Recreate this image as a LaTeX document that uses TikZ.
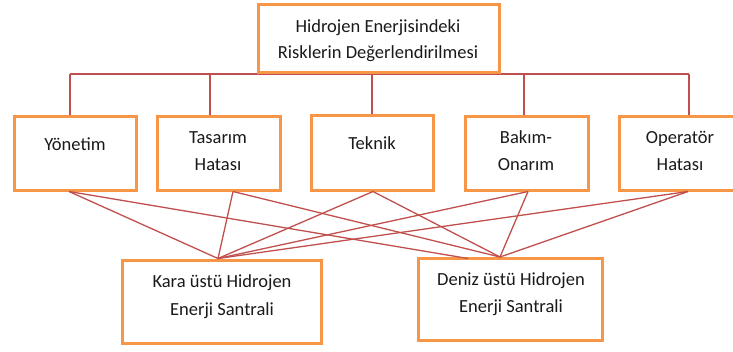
\documentclass[tikz,border=0pt]{standalone}
\usepackage{fontspec}
\setmainfont{Carlito}
\definecolor{boxorange}{HTML}{F79646}
\definecolor{linkred}{HTML}{C0504D}
\definecolor{txt}{HTML}{1A1A1A}
\begin{document}
\begin{tikzpicture}[x=1pt,y=-1pt,
  box/.style={draw=boxorange,line width=3pt,fill=white,inner sep=0pt,outer sep=0pt,rectangle},
  lbl/.style={anchor=base,inner sep=0pt,align=center,text=txt,font=\fontsize{18.5}{27}\selectfont},
  link/.style={draw=linkred,line width=1.3pt}]
\useasboundingbox (0,0) rectangle (733,351);
\clip (0,0) rectangle (733,351);
% tree connectors
\coordinate (hl) at (70,74);
\coordinate (hr) at (689,74);
\coordinate (ht) at (372,74);
\draw[link] (hl) -- (hr);
\draw[link] (hl) -- (70,116);
\draw[link] (210,74) -- (210,116);
\draw[link] (372,60) -- (372,116);
\draw[link] (524,74) -- (524,116);
\draw[link] (689,74) -- (689,116);
% boxes
\node[box,minimum width=241pt,minimum height=68pt] (top) at (378.5,38) {};
\node[box,minimum width=122pt,minimum height=74pt] (yon) at (75,153) {};
\node[box,minimum width=123pt,minimum height=74pt] (tas) at (218.5,153) {};
\node[box,minimum width=122pt,minimum height=75pt] (tek) at (372,152.5) {};
\node[box,minimum width=123pt,minimum height=74pt] (bak) at (526.5,153) {};
\node[box,minimum width=126pt,minimum height=74pt] (ope) at (682,153) {};
\node[box,minimum width=199pt,minimum height=83pt] (kara) at (221.5,301.5) {};
\node[box,minimum width=184pt,minimum height=82pt] (deniz) at (510,299) {};
% labels (base = baseline of last line)
\node[lbl] (topt) at (378,58) {Hidrojen Enerjisindeki\\[-1pt]Risklerin Değerlendirilmesi};
\node[lbl] (yont) at (75,150) {Yönetim};
\node[lbl] (tast) at (218,170) {Tasarım\\Hatası};
\node[lbl] (tekt) at (372,149) {Teknik};
\node[lbl] (bakt) at (526,170) {Bakım-\\Onarım};
\node[lbl] (opet) at (680,170) {Operatör\\Hatası};
\node[lbl] (karat) at (222,315) {Kara üstü Hidrojen\\[1pt]Enerji Santrali};
\node[lbl] (denizt) at (511,312) {Deniz üstü Hidrojen\\Enerji Santrali};
% cross connectors
\coordinate (y1) at (69,191.5);
\coordinate (t1) at (233,191.5);
\coordinate (k1) at (373,191.5);
\coordinate (b1) at (528,191.5);
\coordinate (o1) at (688,191.5);
\coordinate (ka) at (218,258.5);
\coordinate (de) at (500,257);
\coordinate (de2) at (468,258.5);
\foreach \s in {y1,t1,k1,b1,o1} \draw[link] (\s) -- (ka);
\foreach \s in {t1,k1,b1,o1} \draw[link] (\s) -- (de);
\draw[link] (y1) -- (de2);
\end{tikzpicture}
\end{document}
